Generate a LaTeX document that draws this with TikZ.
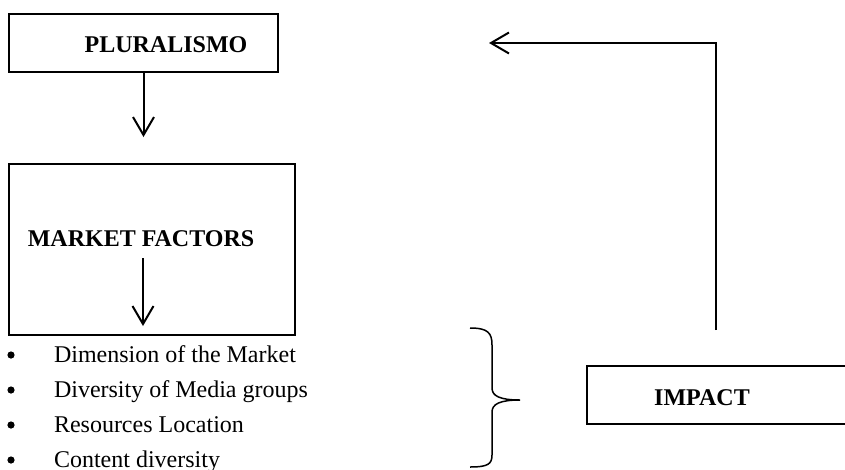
\documentclass[tikz,border=0pt]{standalone}
\usepackage{fontspec}
\setmainfont{Liberation Serif}
\usetikzlibrary{arrows.meta}
\begin{document}
\begin{tikzpicture}[x=1pt,y=-1pt,line width=2pt,
  >={Straight Barb[length=18pt,width=21pt,line width=2pt]},
  box/.style={draw,inner sep=0pt,anchor=north west},
  title/.style={font=\fontsize{24}{28}\selectfont\bfseries,inner sep=0pt},
  item/.style={font=\fontsize{24}{28}\selectfont,inner sep=0pt,anchor=base west}]
\clip (0,0) rectangle (845,469);
\fill[white] (0,0) rectangle (845,469);
% boxes
\node[box,minimum width=269pt,minimum height=58pt] (plur) at (8,13) {};
\node[title] (plurtxt) at (166,45) {PLURALISMO};
\node[box,minimum width=286pt,minimum height=171pt] (market) at (8,163) {};
\node[title] (markettxt) at (141,239) {MARKET FACTORS};
\node[box,minimum width=280pt,minimum height=58pt] (impact) at (586,365) {};
\node[title] (impacttxt) at (702,398) {IMPACT};
% arrows
\coordinate (a1) at (plur.south |- 0,137);
\draw[->] (plur.south)--(a1);
\coordinate (b0) at (143,258);
\coordinate (b1) at (143,326);
\draw[->] (b0)--(b1);
\coordinate (up) at (716,330);
\coordinate (back) at (489,43);
\draw[->] (up) |- (back);
% list
\foreach \txt [count=\i] in {Dimension of the Market,Diversity of Media groups,Resources Location,Content diversity}{
  \fill (11,320+35*\i) circle (3.6pt);
  \node[item] (it\i) at (53,327+35*\i) {\txt};
}
% brace
\draw[line width=1.5pt] (470,328) .. controls (488,328) and (492,333) .. (492,345)
  -- (492,388) .. controls (492,396) and (500,400) .. (520,400)
  .. controls (500,400) and (492,404) .. (492,412)
  -- (492,455) .. controls (492,464) and (488,467) .. (470,467);
\end{tikzpicture}
\end{document}
